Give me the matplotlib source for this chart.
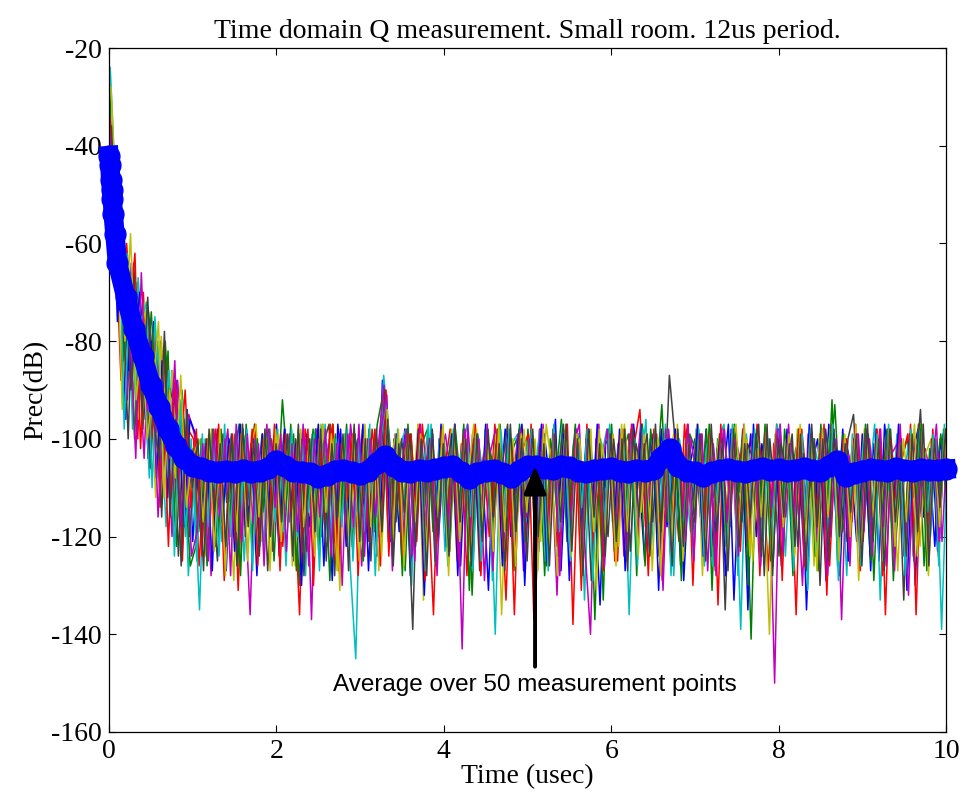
"""
Time domain Q measurement (small room, 12us period): 14 of the 50 traces plus their average
"""

import numpy as np
import matplotlib
matplotlib.use("Agg")
import matplotlib.pyplot as plt
from matplotlib.patches import ArrowStyle

plt.rcParams['axes.unicode_minus'] = False

# ---- data (dB), 151 samples per trace over 0..10 us ----
trace_b = [-30, -52, -62, -96, -64, -88, -72, -104, -76, -98, -84, -112, -88, -118, -94,
           -121, -103, -112, -99, -118, -101, -127, -100, -109, -98, -116, -104, -122, -99, -111,
           -97, -114, -102, -125, -100, -108, -118, -98, -113, -101, -129, -97, -110, -120, -99,
           -106, -117, -100, -124, -88, -112, -102, -119, -98, -128, -105, -100, -115, -99, -121,
           -103, -110, -97, -126, -101, -114, -99, -108, -131, -100, -112, -98, -120, -104, -97,
           -117, -101, -123, -99, -109, -96, -127, -102, -113, -100, -119, -98, -110, -134, -101,
           -99, -115, -103, -121, -97, -108, -125, -100, -112, -98, -118, -103, -99, -129, -106,
           -100, -116, -98, -124, -102, -110, -97, -133, -104, -112, -99, -120, -101, -108, -126,
           -98, -113, -102, -119, -99, -135, -105, -100, -117, -97, -111, -128, -100, -106, -121,
           -99, -114, -101, -125, -97, -109, -118, -100, -131, -103, -98, -116, -104, -122, -100,
           -110]
trace_g = [-26, -66, -56, -80, -90, -68, -98, -74, -86, -110, -80, -100, -122, -90, -108,
           -102, -119, -105, -100, -122, -98, -113, -101, -126, -99, -109, -97, -118, -103, -100,
           -114, -92, -107, -99, -130, -101, -111, -98, -120, -104, -97, -124, -100, -112, -99,
           -118, -102, -109, -97, -91, -121, -100, -106, -127, -99, -113, -101, -98, -119, -105,
           -100, -123, -98, -110, -102, -132, -99, -115, -101, -107, -97, -125, -103, -100, -118,
           -98, -112, -101, -128, -100, -108, -96, -121, -104, -99, -116, -102, -137, -100, -110,
           -97, -120, -103, -99, -114, -101, -126, -98, -109, -93, -117, -100, -105, -123, -99,
           -102, -113, -98, -131, -100, -107, -119, -97, -111, -104, -141, -99, -115, -101, -106,
           -124, -98, -110, -102, -100, -118, -100, -127, -99, -108, -93, -114, -121, -103, -100,
           -116, -99, -129, -101, -107, -98, -120, -104, -100, -112, -97, -126, -102, -109, -99,
           -113]
trace_r = [-34, -58, -88, -60, -76, -100, -70, -92, -78, -114, -84, -96, -90, -125, -98,
           -100, -126, -104, -111, -98, -117, -102, -99, -131, -101, -108, -97, -120, -100, -113,
           -99, -122, -101, -110, -136, -98, -105, -118, -100, -112, -97, -127, -103, -99, -115,
           -101, -119, -98, -108, -90, -124, -100, -113, -102, -99, -121, -97, -110, -136, -100,
           -106, -98, -117, -101, -128, -99, -112, -103, -120, -97, -109, -133, -100, -114, -102,
           -99, -137, -98, -110, -104, -122, -100, -97, -138, -101, -111, -99, -119, -103, -107,
           -100, -125, -98, -113, -101, -94, -118, -104, -99, -129, -100, -108, -121, -97, -112,
           -103, -99, -117, -100, -134, -98, -109, -102, -123, -100, -115, -97, -106, -127, -101,
           -99, -112, -104, -136, -98, -110, -100, -119, -97, -126, -103, -108, -100, -117, -99,
           -121, -101, -109, -98, -136, -100, -113, -104, -99, -124, -97, -110, -118, -101, -106,
           -102]
trace_c = [-24, -50, -74, -62, -98, -67, -84, -108, -75, -94, -118, -86, -110, -92, -128,
           -108, -135, -100, -114, -102, -121, -99, -110, -97, -125, -103, -100, -117, -101, -108,
           -98, -119, -102, -111, -99, -128, -100, -106, -97, -122, -101, -113, -99, -126, -145,
           -100, -109, -103, -120, -87, -99, -115, -101, -98, -130, -102, -108, -97, -118, -100,
           -123, -99, -111, -102, -97, -127, -100, -110, -104, -140, -98, -113, -101, -99, -121,
           -100, -108, -98, -125, -103, -114, -97, -119, -101, -99, -133, -100, -111, -104, -98,
           -117, -101, -99, -136, -100, -109, -96, -122, -103, -112, -99, -128, -100, -107, -119,
           -98, -111, -101, -126, -100, -97, -115, -104, -139, -99, -110, -102, -121, -100, -108,
           -97, -124, -101, -113, -99, -131, -100, -106, -118, -98, -111, -103, -128, -99, -115,
           -100, -109, -97, -133, -102, -117, -99, -112, -101, -125, -98, -107, -120, -100, -139,
           -104]
trace_m = [-38, -70, -60, -92, -66, -82, -104, -76, -100, -80, -96, -120, -88, -104, -95,
           -99, -113, -101, -128, -100, -107, -98, -119, -102, -111, -136, -100, -109, -97, -123,
           -101, -112, -99, -118, -103, -100, -137, -98, -110, -102, -121, -99, -115, -97, -108,
           -126, -100, -113, -101, -89, -119, -99, -107, -98, -124, -102, -111, -100, -117, -105,
           -99, -108, -102, -143, -97, -112, -100, -129, -103, -98, -115, -101, -110, -99, -127,
           -100, -118, -98, -109, -104, -132, -99, -113, -101, -97, -122, -140, -100, -107, -98,
           -116, -101, -124, -99, -110, -97, -119, -102, -100, -131, -98, -112, -103, -121, -100,
           -108, -99, -127, -101, -113, -98, -118, -100, -105, -122, -99, -111, -102, -106, -150,
           -97, -116, -101, -109, -130, -99, -112, -104, -98, -120, -100, -137, -102, -108, -99,
           -119, -100, -113, -98, -126, -103, -101, -110, -132, -99, -116, -102, -108, -97, -121,
           -100]
trace_y = [-28, -54, -94, -64, -72, -96, -72, -88, -112, -79, -100, -86, -116, -97, -112,
           -104, -100, -124, -98, -112, -101, -108, -129, -99, -115, -102, -97, -121, -100, -110,
           -99, -116, -101, -126, -98, -109, -103, -120, -97, -113, -100, -131, -99, -107, -118,
           -98, -112, -100, -127, -92, -106, -99, -119, -101, -114, -97, -133, -100, -109, -102,
           -120, -98, -125, -100, -108, -97, -117, -101, -112, -99, -136, -103, -100, -115, -98,
           -111, -100, -121, -97, -106, -128, -99, -113, -102, -100, -117, -98, -131, -101, -109,
           -99, -122, -97, -108, -101, -115, -99, -127, -100, -111, -104, -98, -120, -100, -113,
           -97, -128, -101, -110, -99, -119, -103, -97, -114, -100, -125, -102, -108, -140, -99,
           -112, -100, -121, -98, -107, -103, -126, -99, -116, -97, -110, -101, -119, -100, -129,
           -98, -113, -101, -118, -99, -106, -127, -100, -111, -97, -122, -103, -100, -115, -108,
           -103]
trace_k = [-36, -62, -70, -100, -64, -92, -80, -106, -82, -116, -88, -92, -124, -96, -120,
           -103, -118, -100, -109, -125, -99, -113, -102, -97, -120, -101, -111, -99, -127, -103,
           -110, -98, -117, -100, -105, -123, -99, -112, -101, -97, -128, -100, -114, -102, -108,
           -99, -121, -101, -111, -90, -103, -117, -100, -109, -139, -98, -113, -100, -125, -101,
           -107, -99, -119, -102, -111, -100, -127, -98, -113, -101, -106, -97, -123, -100, -110,
           -102, -115, -99, -126, -101, -108, -97, -118, -100, -112, -103, -129, -99, -107, -120,
           -100, -111, -98, -123, -101, -106, -99, -117, -102, -114, -87, -100, -126, -101, -109,
           -98, -120, -102, -112, -100, -135, -99, -108, -117, -101, -104, -97, -128, -100, -113,
           -101, -107, -99, -122, -103, -112, -100, -130, -98, -109, -102, -119, -100, -95, -115,
           -103, -124, -100, -110, -98, -117, -101, -133, -99, -108, -94, -120, -100, -112, -101,
           -106]
trace_b2 = [-44, -76, -58, -86, -82, -70, -96, -80, -108, -84, -112, -90, -98, -118, -96,
            -99, -120, -101, -127, -98, -114, -100, -123, -97, -118, -102, -128, -99, -116, -100,
            -124, -98, -117, -101, -130, -99, -113, -97, -126, -100, -119, -98, -122, -101, -115,
            -97, -127, -100, -118, -95, -121, -99, -125, -101, -114, -98, -132, -100, -117, -97,
            -122, -99, -128, -98, -116, -101, -124, -97, -119, -100, -126, -99, -113, -98, -130,
            -100, -118, -97, -125, -101, -115, -99, -129, -98, -121, -100, -117, -97, -124, -101,
            -119, -98, -127, -100, -113, -97, -123, -99, -131, -101, -116, -98, -125, -100, -118,
            -97, -124, -101, -120, -99, -128, -98, -115, -100, -135, -97, -121, -99, -117, -102,
            -126, -98, -119, -100, -123, -97, -114, -101, -129, -99, -118, -98, -125, -100, -116,
            -99, -127, -98, -120, -101, -117, -97, -124, -100, -130, -98, -119, -101, -123, -99,
            -118]
trace_g2 = [-40, -56, -84, -66, -100, -74, -90, -74, -94, -104, -82, -118, -94, -108, -126,
            -122, -100, -126, -98, -119, -101, -117, -99, -128, -97, -121, -100, -115, -98, -125,
            -101, -118, -97, -127, -100, -114, -98, -123, -101, -129, -99, -116, -97, -122, -100,
            -125, -98, -119, -101, -93, -117, -100, -128, -97, -120, -99, -114, -101, -126, -98,
            -116, -100, -123, -97, -131, -99, -118, -101, -124, -98, -113, -100, -127, -97, -121,
            -99, -129, -101, -117, -98, -124, -100, -112, -97, -126, -99, -120, -101, -133, -98,
            -123, -100, -115, -98, -128, -97, -119, -101, -124, -99, -116, -100, -129, -98, -121,
            -100, -117, -97, -126, -99, -122, -101, -114, -98, -130, -100, -119, -97, -125, -99,
            -115, -101, -128, -98, -120, -100, -124, -97, -117, -92, -126, -99, -121, -101, -118,
            -97, -125, -100, -116, -98, -129, -101, -121, -99, -114, -97, -127, -100, -119, -98,
            -122]
trace_r2 = [-46, -64, -66, -74, -62, -102, -78, -100, -84, -90, -122, -88, -106, -90, -114,
            -98, -124, -100, -117, -97, -129, -101, -121, -99, -114, -98, -126, -100, -119, -97,
            -127, -99, -115, -101, -123, -98, -130, -100, -118, -97, -125, -101, -113, -99, -128,
            -100, -121, -98, -126, -90, -118, -101, -124, -99, -116, -97, -129, -100, -122, -98,
            -117, -101, -125, -99, -119, -97, -128, -100, -115, -98, -123, -101, -136, -99, -120,
            -97, -126, -100, -118, -98, -124, -101, -116, -99, -131, -97, -121, -100, -127, -98,
            -125, -99, -119, -97, -122, -100, -128, -98, -117, -101, -124, -99, -115, -97, -130,
            -101, -119, -99, -127, -97, -118, -100, -125, -98, -121, -101, -128, -99, -116, -97,
            -129, -100, -117, -98, -126, -101, -120, -99, -132, -97, -118, -100, -123, -98, -127,
            -100, -120, -98, -128, -101, -116, -99, -125, -97, -136, -100, -118, -98, -124, -101,
            -115]
trace_c2 = [-42, -52, -98, -70, -88, -76, -72, -110, -80, -100, -86, -124, -92, -120, -100,
            -125, -99, -118, -101, -124, -97, -120, -100, -113, -98, -127, -101, -122, -99, -117,
            -100, -126, -98, -120, -101, -115, -99, -127, -97, -121, -100, -118, -98, -125, -101,
            -119, -97, -128, -100, -92, -124, -98, -117, -101, -123, -99, -127, -97, -115, -100,
            -126, -98, -120, -101, -116, -99, -125, -97, -129, -100, -118, -98, -122, -101, -117,
            -98, -121, -100, -127, -97, -119, -101, -125, -99, -114, -98, -129, -100, -120, -97,
            -122, -101, -116, -99, -126, -98, -121, -100, -115, -97, -128, -101, -119, -99, -124,
            -98, -126, -100, -114, -101, -123, -97, -128, -99, -118, -98, -125, -100, -121, -97,
            -120, -99, -127, -101, -116, -98, -124, -100, -119, -97, -129, -101, -115, -99, -126,
            -101, -117, -99, -125, -97, -121, -100, -128, -98, -119, -101, -115, -99, -126, -97,
            -120]
trace_m2 = [-48, -72, -62, -78, -104, -66, -94, -82, -116, -92, -104, -84, -118, -100, -124,
            -119, -101, -125, -98, -116, -100, -128, -97, -121, -99, -117, -101, -126, -98, -114,
            -99, -123, -101, -119, -97, -126, -100, -116, -98, -124, -101, -130, -99, -118, -97,
            -124, -100, -116, -98, -91, -127, -99, -120, -101, -125, -97, -118, -100, -128, -99,
            -118, -101, -126, -98, -121, -100, -115, -97, -127, -99, -120, -101, -124, -98, -116,
            -100, -124, -97, -120, -99, -128, -101, -117, -98, -123, -100, -115, -97, -126, -99,
            -118, -100, -125, -97, -120, -99, -113, -101, -127, -98, -122, -100, -116, -97, -125,
            -99, -121, -101, -128, -98, -117, -100, -124, -97, -119, -101, -126, -99, -114, -98,
            -123, -97, -116, -100, -125, -99, -121, -98, -128, -101, -117, -100, -126, -97, -119,
            -98, -124, -101, -118, -99, -127, -97, -120, -100, -116, -98, -125, -101, -121, -99,
            -117]
trace_y2 = [-40, -60, -80, -58, -92, -80, -100, -90, -76, -112, -90, -108, -87, -114, -104,
            -101, -117, -99, -123, -98, -128, -100, -119, -97, -125, -101, -116, -99, -127, -98,
            -121, -100, -126, -98, -118, -101, -124, -97, -115, -99, -127, -100, -120, -98, -125,
            -97, -118, -101, -124, -94, -121, -98, -126, -100, -117, -99, -123, -101, -116, -97,
            -128, -99, -121, -100, -125, -98, -117, -101, -123, -97, -119, -100, -126, -99, -115,
            -101, -127, -98, -122, -100, -116, -97, -124, -99, -128, -101, -119, -98, -121, -100,
            -126, -97, -119, -101, -124, -99, -117, -98, -128, -100, -121, -97, -125, -101, -116,
            -100, -123, -98, -117, -101, -126, -99, -120, -97, -124, -100, -116, -98, -127, -101,
            -118, -99, -124, -97, -121, -100, -127, -98, -116, -101, -125, -99, -120, -97, -123,
            -101, -116, -100, -126, -98, -122, -101, -117, -99, -124, -97, -128, -100, -118, -98,
            -125]
trace_k2 = [-44, -68, -64, -90, -70, -94, -71, -96, -104, -78, -116, -96, -126, -94, -110,
            -100, -127, -98, -115, -101, -122, -99, -126, -97, -118, -100, -124, -98, -120, -101,
            -117, -99, -124, -97, -128, -100, -119, -98, -125, -101, -116, -99, -127, -97, -121,
            -100, -125, -98, -119, -96, -126, -101, -115, -99, -122, -100, -128, -98, -120, -101,
            -124, -97, -117, -100, -126, -99, -121, -98, -116, -101, -127, -97, -119, -100, -125,
            -98, -120, -101, -126, -99, -117, -97, -123, -100, -128, -98, -116, -101, -124, -99,
            -121, -100, -127, -98, -116, -101, -124, -97, -119, -100, -126, -98, -122, -101, -117,
            -99, -125, -97, -119, -100, -127, -98, -122, -101, -116, -99, -124, -97, -128, -100,
            -116, -101, -122, -99, -127, -97, -118, -100, -125, -98, -120, -101, -115, -99, -126,
            -97, -121, -100, -127, -98, -117, -101, -124, -99, -119, -97, -126, -100, -114, -98,
            -121]

traces = [trace_b, trace_g, trace_r, trace_c, trace_m, trace_y, trace_k,
          trace_b2, trace_g2, trace_r2, trace_c2, trace_m2, trace_y2, trace_k2]
# MATLAB's old default line colour order, cycled
color_order = [(0, 0, 1), (0, 0.5, 0), (1, 0, 0), (0, 0.75, 0.75),
               (0.75, 0, 0.75), (0.75, 0.75, 0), (0.25, 0.25, 0.25)]

# average over 50 measurement points
avg_t_early = [0.0, 0.01, 0.02, 0.03, 0.04, 0.05, 0.07]
avg_db_early = [-42, -44, -47, -49, -51, -54, -58]
avg_db = [-64, -71, -77.5, -83, -89, -93.5, -98, -101.5, -104, -105.5,
          -106, -106.5, -106.8, -106.5, -106.7, -106.4, -106.8, -106.5, -106, -104.5,
          -105.5, -106.5, -106.8, -107, -107.8, -107.3, -106.5, -106.3, -106.8, -107.2,
          -106.5, -105, -103.5, -105.5, -106.5, -106.7, -106.3, -106.5, -106.2, -105.8,
          -105.5, -106.8, -108, -107, -106.5, -106.3, -107, -107.8, -106.5, -105.5,
          -105.6, -106, -106.2, -105.5, -105.8, -106.5, -106.8, -106.4, -106.2, -106,
          -106.5, -106.7, -106.3, -106.5, -106.2, -104, -102, -105.5, -106.5, -106.8,
          -107.5, -106.8, -106.4, -106.2, -106.5, -106.8, -106.3, -106, -106.4, -106.2,
          -106.5, -106.3, -106, -106.4, -106.6, -105.5, -104.5, -107.5, -107, -106.5,
          -106.2, -106.4, -106.5, -106, -106.3, -106.5, -106.2, -106.4, -106.3, -106.2]

x_ticks = [0, 2, 4, 6, 8, 10]
y_ticks = [-160, -140, -120, -100, -80, -60, -40, -20]

serif = ['Liberation Serif', 'DejaVu Serif']

fig = plt.figure(figsize=(9.65, 8.02), dpi=100)
ax = fig.add_axes([0.113, 0.0873, 0.8673, 0.8528])

n = len(trace_b)
t = np.linspace(0, 10, n)
step = t[1] / len(traces)
for k, vals in enumerate(traces):
    ax.plot(t + k * step, vals, color=color_order[k % len(color_order)], linewidth=1.1)

avg_t = np.concatenate([avg_t_early, np.round(np.arange(1, len(avg_db) + 1) * 0.1, 2)])
avg_all = avg_db_early + avg_db
ax.plot(avg_t, avg_all, color='b', linewidth=14, marker='o', markersize=15,
        markerfacecolor='b', markeredgecolor='b', clip_on=False, zorder=5)

ax.annotate('Average over 50 measurement points', xy=(5.09, -105.5), xytext=(5.09, -150.3),
            ha='center', va='center', fontsize=17.5, family=['Liberation Sans', 'DejaVu Sans'],
            arrowprops=dict(arrowstyle=ArrowStyle('-|>', head_length=1.0, head_width=0.4),
                            mutation_scale=17, lw=2.8, color='k', shrinkA=3, shrinkB=0),
            zorder=6)

ax.set_xlim(0, 10)
ax.set_ylim(-160, -20)
ax.set_xticks(x_ticks)
ax.set_yticks(y_ticks)
ax.tick_params(direction='in', length=5, width=0.8, top=True, right=True,
               labelsize=20, pad=5)
for lab in ax.get_xticklabels() + ax.get_yticklabels():
    lab.set_family(serif)
for sp in ax.spines.values():
    sp.set_linewidth(0.9)

ax.set_xlabel('Time (usec)', fontsize=20, family=serif, labelpad=0)
ax.set_ylabel('Prec(dB)', fontsize=20, family=serif, labelpad=2)
ax.set_title('Time domain Q measurement. Small room. 12us period.', fontsize=20,
             family=serif, pad=7)

fig.savefig('out.png', dpi=100)
